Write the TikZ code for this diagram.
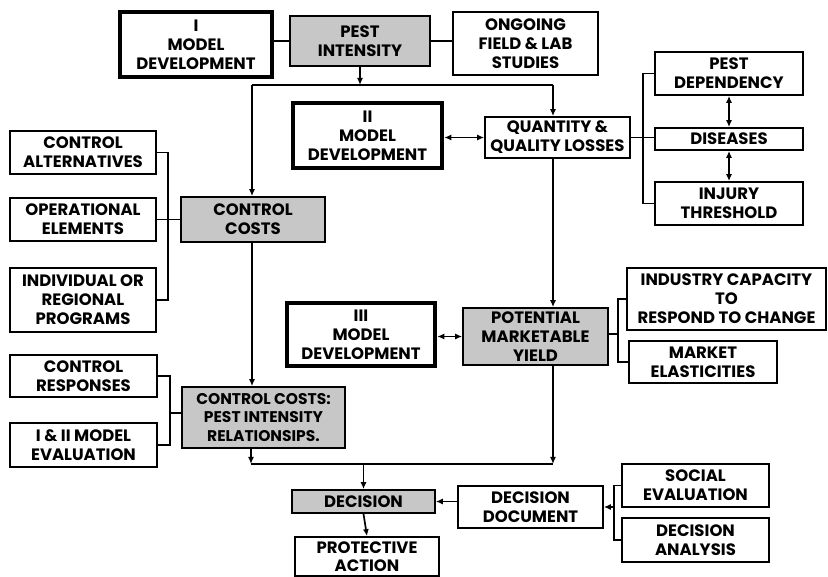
\documentclass[tikz,border=0pt]{standalone}
\usepackage{fontspec}
\setmainfont{Poppins}
\usetikzlibrary{arrows.meta}
\newcommand\mybox[7]{\node[#6,minimum width={(#4-#2)*1pt},minimum height={(#5-#3)*1pt}] (#1) at ({(#2+#4)/2},{(#3+#5)/2}) {#7};}
\begin{document}
\begin{tikzpicture}[x=1pt,y=-1pt,
  box/.style={draw,line width=1.7pt,align=center,inner sep=0pt,font=\bfseries\fontsize{16.5}{19}\selectfont},
  mbox/.style={box,line width=4.5pt},
  nbox/.style={box,fill=black!22},
  conn/.style={line width=1.7pt},
  arr/.style={conn,-{Latex[length=7pt,width=6pt]}},
  darr/.style={conn,{Latex[length=7pt,width=6pt]}-{Latex[length=7pt,width=6pt]}}]
\useasboundingbox (0,0) rectangle (828,577);
\mybox{m1}{120}{12}{272}{77}{mbox}{I\\MODEL\\DEVELOPMENT}
\mybox{pest}{290}{16}{430}{66}{nbox}{PEST\\INTENSITY}
\mybox{ong}{453}{12}{598}{75}{box}{ONGOING\\FIELD \& LAB\\STUDIES}
\mybox{m2}{293}{103}{442}{168}{mbox}{II\\MODEL\\DEVELOPMENT}
\mybox{qql}{485}{117}{630}{158}{box}{QUANTITY \&\\QUALITY LOSSES}
\mybox{pdep}{655}{52}{803}{95}{box}{PEST\\DEPENDENCY}
\mybox{dis}{655}{128}{803}{150}{box}{DISEASES}
\mybox{inj}{655}{182}{803}{225}{box}{INJURY\\THRESHOLD}
\mybox{calt}{10}{131}{156}{174}{box}{CONTROL\\ALTERNATIVES}
\mybox{opel}{10}{198}{156}{241}{box}{OPERATIONAL\\ELEMENTS}
\mybox{indiv}{10}{268}{156}{332}{box}{INDIVIDUAL OR\\REGIONAL\\PROGRAMS}
\mybox{ccost}{181}{197}{325}{242}{nbox}{CONTROL\\COSTS}
\mybox{m3}{287}{303}{435}{366}{mbox}{III\\MODEL\\DEVELOPMENT}
\mybox{pmy}{463}{308}{608}{365}{nbox}{POTENTIAL\\MARKETABLE\\YIELD}
\mybox{icap}{627}{268}{826}{330}{box}{INDUSTRY CAPACITY\\TO\\RESPOND TO CHANGE}
\mybox{mel}{629}{341}{777}{383}{box}{MARKET\\ELASTICITIES}
\mybox{cresp}{10}{355}{157}{397}{box}{CONTROL\\RESPONSES}
\mybox{eval}{10}{423}{157}{467}{box}{I \& II MODEL\\EVALUATION}
\mybox{ccpir}{182}{387}{345}{448}{nbox,font=\bfseries\fontsize{15.5}{18.5}\selectfont}{CONTROL COSTS:\\PEST INTENSITY\\RELATIONSIPS.}
\mybox{dec}{292}{490}{435}{513}{nbox}{DECISION}
\mybox{prot}{295}{537}{439}{576}{box,font=\bfseries\fontsize{16.5}{17.5}\selectfont}{PROTECTIVE\\ACTION}
\mybox{ddoc}{458}{486}{603}{528}{box}{DECISION\\DOCUMENT}
\mybox{soc}{622}{464}{769}{507}{box}{SOCIAL\\EVALUATION}
\mybox{dan}{622}{518}{769}{562}{box}{DECISION\\ANALYSIS}
% junction coordinates
\coordinate (tl) at (252,85);
\coordinate (tr) at (553,85);
\coordinate (bl) at (251,464);
\coordinate (br) at (553,464);
\coordinate (bq) at (643,138);
\coordinate (b1) at (168,219);
\coordinate (b3) at (618,334);
\coordinate (b4) at (170,413);
\coordinate (b5) at (614,507);
% top row
\draw[conn] (m1.east |- pest.west) -- (pest.west);
\draw[conn] (pest.east) -- (pest.east -| ong.west);
\draw[arr] (pest.south) -- (pest.south |- tl);
\draw[conn] (tl) -- (tr);
\draw[arr] (tl) -- (tl |- ccost.north);
\draw[arr] (tr) -- (tr |- qql.north);
% model II
\draw[darr] (m2.east |- qql.west) -- (qql.west);
\draw[conn] (qql.east) -- (qql.east -| dis.west);
\draw[conn] (pdep.west) -- (pdep.west -| bq) -- (inj.west -| bq) -- (inj.west);
\draw[darr] (pdep.south) -- (dis.north);
\draw[darr] (dis.south) -- (inj.north);
% left group 1
\draw[conn] (calt.east) -- (calt.east -| b1) -- (indiv.east -| b1) -- (indiv.east);
\draw[conn] (opel.east) -- (ccost.west);
\draw[arr] (ccost.south -| tl) -- (ccpir.north -| tl);
% model III
\draw[darr] (m3.east |- pmy.west) -- (pmy.west);
\draw[arr] (qql.south -| tr) -- (pmy.north -| tr);
\draw[conn] (pmy.east |- b3) -- (b3);
\draw[conn] (icap.west) -- (icap.west -| b3) -- (mel.west -| b3) -- (mel.west);
% left group 2
\draw[conn] (cresp.east) -- (cresp.east -| b4) -- (eval.east -| b4) -- (eval.east);
\draw[conn] (b4) -- (b4 -| ccpir.west);
% bottom
\draw[arr] (ccpir.south -| bl) -- (bl);
\draw[arr] (pmy.south -| br) -- (br);
\draw[conn] (bl) -- (br);
\draw[arr] (bl -| dec.north) -- (dec.north);
\draw[arr] (dec.south) -- (prot.north);
\draw[arr] (ddoc.west |- dec.east) -- (dec.east);
\draw[conn] (soc.west) -- (soc.west -| b5) -- (dan.west -| b5) -- (dan.west);
\draw[arr] (b5) -- (b5 -| ddoc.east);
\end{tikzpicture}
\end{document}
